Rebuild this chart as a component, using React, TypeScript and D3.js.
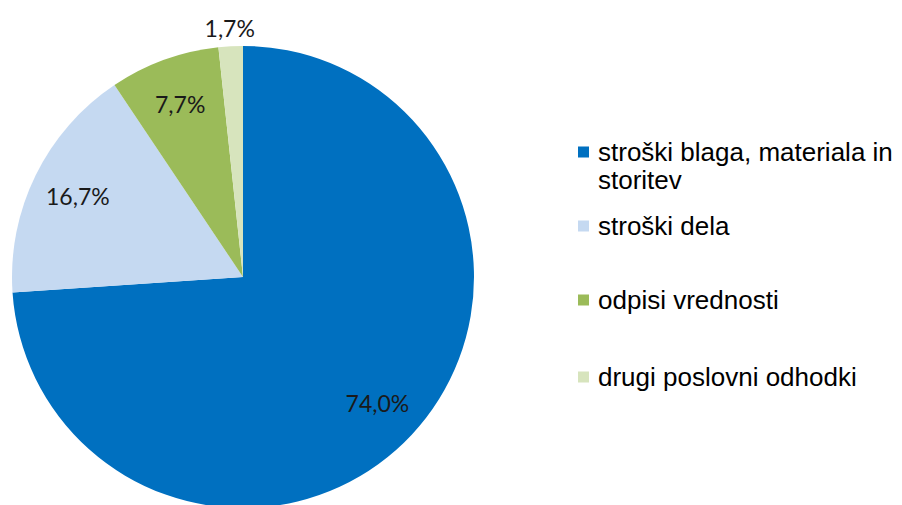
import * as d3 from "d3";

const categories = [
  "stroški blaga, materiala in storitev",
  "stroški dela",
  "odpisi vrednosti",
  "drugi poslovni odhodki",
];
const values = [74.0, 16.7, 7.7, 1.7];
const labels = ["74,0%", "16,7%", "7,7%", "1,7%"];
const colors = ["#0070C0", "#C5D9F1", "#9BBB59", "#D7E4BD"];
const legendLines = [["stroški blaga, materiala in", "storitev"], ["stroški dela"], ["odpisi vrednosti"], ["drugi poslovni odhodki"]];

const width = 902;
const height = 505;
const cx = 243;
const cy = 277;
const radius = 231;

type Datum = { name: string; value: number; label: string };

export default function App() {
  const data: Datum[] = categories.map((name, i) => ({ name, value: values[i], label: labels[i] }));
  const color = d3.scaleOrdinal<string, string>().domain(categories).range(colors);
  const pie = d3.pie<Datum>().sort(null).value((d) => d.value);
  const arcs = pie(data);
  const arc = d3.arc<d3.PieArcDatum<Datum>>().innerRadius(0).outerRadius(radius);
  const inner = d3.arc<d3.PieArcDatum<Datum>>().innerRadius(184).outerRadius(184);
  const outer = d3.arc<d3.PieArcDatum<Datum>>().innerRadius(249).outerRadius(249);

  const legendY = [152, 226, 300, 377];

  return (
    <svg
      width={width}
      height={height}
      style={{ position: "absolute", left: 0, top: 0, background: "#fff" }}
    >
      <g transform={`translate(${cx},${cy})`}>
        {arcs.map((a) => (
          <path key={a.data.name} d={arc(a) || ""} fill={color(a.data.name)} />
        ))}
        {arcs.map((a, i) => {
          const [x, y] = (a.data.value < 5 ? outer : inner).centroid(a);
          return (
            <text
              key={"l" + i}
              x={x}
              y={y}
              textAnchor="middle"
              dominantBaseline="central"
              fontFamily="Lato, 'Open Sans', sans-serif"
              fontSize={23}
              fill="#1a1a1a"
            >
              {a.data.label}
            </text>
          );
        })}
      </g>
      <g fontFamily="'Liberation Sans', Arial, sans-serif" fontSize={26} fill="#000">
        {categories.map((c, i) => (
          <g key={c} transform={`translate(578,${legendY[i]})`}>
            <rect x={0} y={-5.5} width={11} height={11} fill={color(c)} />
            {legendLines[i].map((line, j) => (
              <text key={j} x={20} y={j * 28} dominantBaseline="central">
                {line}
              </text>
            ))}
          </g>
        ))}
      </g>
    </svg>
  );
}
